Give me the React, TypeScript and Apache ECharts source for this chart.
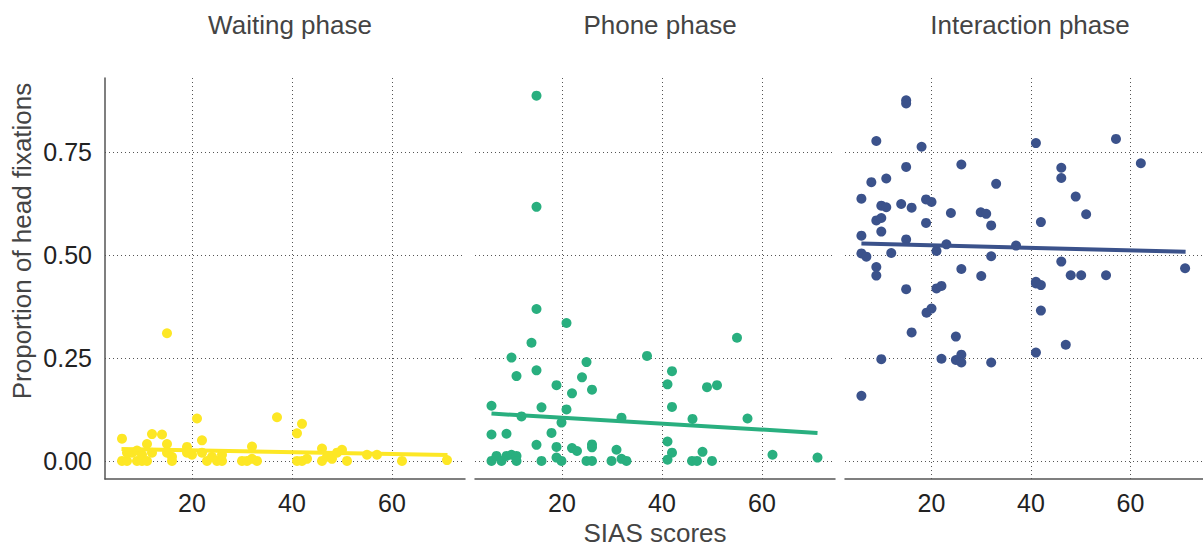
import React, { useEffect, useRef } from "react";
import * as echarts from "echarts";

const panelTitles = ["Waiting phase", "Phone phase", "Interaction phase"];
const panelColors = ["#FDE725", "#29AF7F", "#3B528B"];
const xTicks = [20, 40, 60];
const yTicks = [0, 0.25, 0.5, 0.75];
const xAxisTitle = "SIAS scores";
const yAxisTitle = "Proportion of head fixations";

const waiting: number[][] = [
  [6, 0.054], [6, 0], [7, 0], [7, 0.02], [8, 0.02], [9, 0], [9, 0.025], [10, 0], [10, 0.015],
  [11, 0.041], [11, 0], [12, 0.065], [12, 0.02], [14, 0.064], [15, 0.31], [15, 0.041], [15, 0.02],
  [16, 0], [16, 0.01], [19, 0.034], [19, 0.02], [20, 0.015], [21, 0.103], [22, 0.05], [22, 0.02],
  [23, 0], [24, 0.01], [25, 0], [26, 0], [26, 0.015], [30, 0], [31, 0], [32, 0.035], [32, 0.005],
  [33, 0], [37, 0.106], [41, 0.067], [41, 0], [42, 0.09], [42, 0], [43, 0.005], [46, 0.03], [46, 0],
  [47, 0.01], [48, 0.005], [49, 0.02], [50, 0.027], [51, 0], [55, 0.015], [57, 0.015], [62, 0], [71, 0.002],
];

const phone: number[][] = [
  [14.9, 0.887], [14.9, 0.617], [14.9, 0.369], [20.9, 0.335], [13.9, 0.287], [9.9, 0.251], [24.9, 0.24],
  [37, 0.255], [55, 0.299], [10.9, 0.206], [14.9, 0.22], [24, 0.203], [42, 0.218], [18.9, 0.184],
  [26, 0.173], [22, 0.164], [41.1, 0.186], [49, 0.179], [51, 0.184], [5.9, 0.134], [15.9, 0.13],
  [20.9, 0.125], [42, 0.131], [11.9, 0.108], [19.9, 0.093], [31.9, 0.105], [46.1, 0.102], [57.1, 0.103],
  [5.9, 0.064], [8.9, 0.066], [17.9, 0.068], [14.9, 0.039], [18.9, 0.034], [22, 0.031], [23, 0.024],
  [26, 0.04], [26, 0.033], [30.9, 0.027], [41.1, 0.047], [42, 0.02], [48.1, 0.022], [62.1, 0.015],
  [71.1, 0.008], [5.9, 0], [6.9, 0.012], [7.9, 0], [8.9, 0.012], [9.9, 0.015], [10.9, 0.012], [10.9, 0],
  [15.9, 0], [18.9, 0.008], [19.9, 0], [24.9, 0], [26, 0], [29.9, 0], [31.9, 0.005], [32.9, 0],
  [41.1, 0.003], [46, 0], [47, 0], [50, 0],
];

const interaction: number[][] = [
  [14.9, 0.876], [14.9, 0.868], [8.9, 0.777], [18, 0.763], [41, 0.772], [57.1, 0.782], [62.1, 0.723],
  [26, 0.72], [14.9, 0.714], [46.1, 0.712], [46.1, 0.687], [10.9, 0.686], [7.9, 0.677], [33, 0.673],
  [5.9, 0.637], [49, 0.642], [9.9, 0.62], [10.9, 0.616], [13.9, 0.624], [16, 0.615], [18.9, 0.635],
  [20, 0.629], [23.9, 0.602], [29.9, 0.604], [31, 0.6], [51.1, 0.599], [8.9, 0.584], [9.9, 0.59],
  [18.9, 0.578], [32, 0.572], [42, 0.58], [9.9, 0.557], [5.9, 0.547], [14.9, 0.538], [23, 0.526],
  [37, 0.523], [21, 0.51], [5.9, 0.504], [6.9, 0.496], [11.9, 0.505], [32, 0.497], [46.1, 0.484],
  [71, 0.468], [8.9, 0.471], [8.9, 0.45], [26, 0.466], [30, 0.449], [48, 0.451], [50.1, 0.451],
  [55.1, 0.451], [41, 0.435], [14.9, 0.417], [21, 0.419], [22, 0.425], [41, 0.431], [42, 0.427],
  [42, 0.365], [19, 0.36], [20, 0.37], [16, 0.312], [24.9, 0.302], [47, 0.282], [41, 0.263],
  [9.9, 0.247], [22, 0.248], [24.9, 0.245], [26, 0.258], [26, 0.239], [32, 0.239], [5.9, 0.158],
];

const fitWaiting: number[][] = [[5.9, 0.029], [71.1, 0.014]];
const fitPhone: number[][] = [[5.9, 0.115], [71.1, 0.068]];
const fitInteraction: number[][] = [[5.9, 0.528], [71.1, 0.508]];

const panelPoints = [waiting, phone, interaction];
const panelFits = [fitWaiting, fitPhone, fitInteraction];

const X_MIN = 2.6;
const X_MAX = 74.6;
const Y_MIN = -0.044;
const Y_MAX = 0.93;

export default function App() {
  const ref = useRef<HTMLDivElement>(null);
  useEffect(() => {
    if (!ref.current) return;
    const chart = echarts.init(ref.current, undefined, { renderer: "svg" });
    const lefts = [105, 475, 845];
    const gridLine = { show: true, lineStyle: { color: "#555", width: 1, type: [1, 3] as any } };
    const font = "Liberation Sans, Arial, sans-serif";
    const option: any = {
      animation: false,
      backgroundColor: "#ffffff",
      title: panelTitles.map((t, i) => ({
        text: t,
        left: lefts[i] + 180,
        top: 7,
        textAlign: "center",
        textStyle: { fontFamily: font, fontSize: 26, fontWeight: "normal", color: "#444" },
      })),
      graphic: [
        {
          type: "text",
          x: 22,
          y: 241,
          rotation: Math.PI / 2,
          style: {
            text: yAxisTitle,
            fontFamily: font,
            fontSize: 26,
            fill: "#444",
            textAlign: "center",
            textVerticalAlign: "middle",
          },
        },
      ],
      grid: lefts.map((l) => ({ left: l, top: 78, width: 360, height: 401 })),
      xAxis: lefts.map((_, i) => ({
        type: "value",
        gridIndex: i,
        min: X_MIN,
        max: X_MAX,
        axisLine: { show: true, onZero: false, lineStyle: { color: "#555", width: 1.5 } },
        axisTick: { show: false, customValues: xTicks },
        axisLabel: { customValues: xTicks, margin: 11, fontSize: 25, fontFamily: font, color: "#222" },
        splitLine: gridLine,
        name: i === 1 ? xAxisTitle : "",
        nameLocation: "middle",
        nameGap: 40,
        nameTextStyle: { fontFamily: font, fontSize: 26, color: "#444" },
      })),
      yAxis: lefts.map((_, i) => ({
        type: "value",
        gridIndex: i,
        min: Y_MIN,
        max: Y_MAX,
        axisLine: { show: i === 0, onZero: false, lineStyle: { color: "#555", width: 1.5 } },
        axisTick: { show: false, customValues: yTicks },
        axisLabel: {
          show: i === 0,
          customValues: yTicks,
          margin: 13,
          fontSize: 25,
          fontFamily: font,
          color: "#222",
          formatter: (v: number) => v.toFixed(2),
        },
        splitLine: gridLine,
      })),
      series: [
        ...panelPoints.map((pts, i) => ({
          type: "scatter",
          xAxisIndex: i,
          yAxisIndex: i,
          data: pts,
          symbolSize: 10,
          itemStyle: { color: panelColors[i], opacity: 1 },
          z: 2,
        })),
        ...panelFits.map((f, i) => ({
          type: "line",
          xAxisIndex: i,
          yAxisIndex: i,
          data: f,
          showSymbol: false,
          symbol: "none",
          lineStyle: { color: panelColors[i], width: 4 },
          z: 3,
        })),
      ],
    };
    chart.setOption(option);
    return () => chart.dispose();
  }, []);
  return <div ref={ref} style={{ position: "fixed", left: 0, top: 0, width: 1203, height: 552 }} />;
}
